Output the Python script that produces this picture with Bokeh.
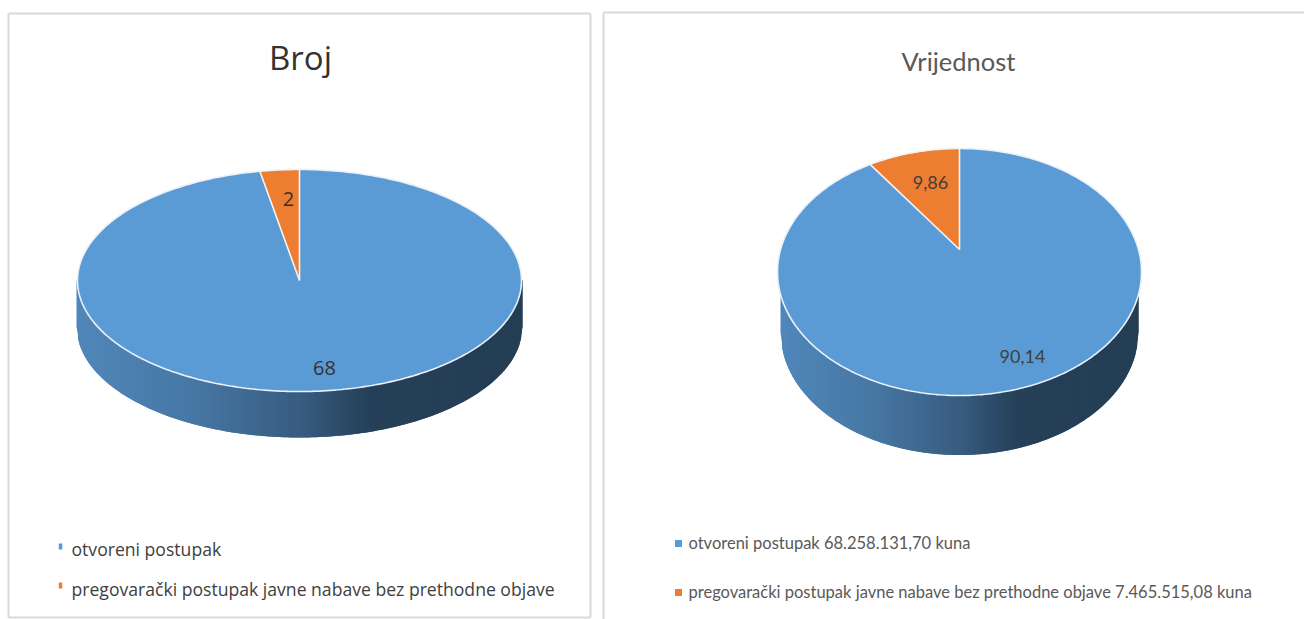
import numpy as np
from bokeh.plotting import figure
from bokeh.core.properties import value
from bokeh.embed import file_html
from bokeh.resources import INLINE

# --- data ---
titles = ["Broj", "Vrijednost"]
broj_values = [68, 2]
broj_labels = ["68", "2"]
vrijednost_values = [90.14, 9.86]
vrijednost_labels = ["90,14", "9,86"]
broj_legend = ["otvoreni postupak", "pregovarački postupak javne nabave bez prethodne objave"]
vrijednost_legend = ["otvoreni postupak 68.258.131,70 kuna",
                     "pregovarački postupak javne nabave bez prethodne objave 7.465.515,08 kuna"]
colors = ["#5B9BD5", "#ED7D31"]

# --- page-like coordinate system ---
W, H = 1304, 619
p = figure(width=W, height=H, x_range=(0, W), y_range=(H, 0),
           toolbar_location=None, output_backend="svg", min_border=0,
           background_fill_color="white", border_fill_color="white")
p.axis.visible = False
p.grid.visible = False
p.outline_line_color = None

FRAME = "#d9d9d9"
p.segment(x0=[8, 8, 8, 590], y0=[13, 13, 617, 13], x1=[590, 8, 590, 590], y1=[13, 617, 617, 617],
          line_color=FRAME, line_width=2)
p.segment(x0=[603, 603], y0=[12, 12], x1=[1304, 603], y1=[12, 619],
          line_color=FRAME, line_width=2)

STOPS_F = [0.0, 0.25, 0.5, 0.66, 1.0]
STOPS_RGB = np.array([[0x50, 0x87, 0xBA], [0x47, 0x78, 0xA5], [0x38, 0x5C, 0x80],
                      [0x25, 0x40, 0x58], [0x24, 0x3E, 0x54]], dtype=float)


def side_color(f):
    rgb = [np.interp(f, STOPS_F, STOPS_RGB[:, i]) for i in range(3)]
    return "#%02x%02x%02x" % tuple(int(round(c)) for c in rgb)


def pie(values, cx, cy, rx, ry, apex_dy, depth, rx_b, ry_b):
    """Elliptic 3D pie; the second slice runs anticlockwise from 12 o'clock."""
    # side wall: overlapping strips, painted left to right, carrying the gradient
    n = int(2 * rx_b / 1.5)
    edges = np.linspace(cx - rx_b, cx + rx_b, n + 1)
    low = cy + depth + ry_b * np.sqrt(np.clip(1 - ((edges - cx) / rx_b) ** 2, 0, 1))
    xs_list, ys_list, cols = [], [], []
    for i in range(n):
        j = min(i + 2, n)
        xs_list.append([edges[i], edges[j], edges[j], edges[i]])
        ys_list.append([cy, cy, low[j], low[i]])
        cols.append(side_color((edges[i] - (cx - rx_b)) / (2 * rx_b)))
    p.patches(xs_list, ys_list, fill_color=cols, line_color=None)

    # top face
    th = np.linspace(0, 2 * np.pi, 361)
    p.patch(cx + rx * np.cos(th), cy + ry * np.sin(th), fill_color=colors[0],
            line_color="#eaf1f8", line_width=1.6)

    # second slice: ray from the apex through the rim of the ellipse
    share = values[1] / sum(values)
    ax, ay = cx, cy + apex_dy
    rim_x, rim_y = [], []
    for a in np.linspace(0, share * 2 * np.pi, 40):
        dx, dy = -rx * np.sin(a), -ry * np.cos(a)
        A = (dx / rx) ** 2 + (dy / ry) ** 2
        B = 2 * apex_dy * dy / ry ** 2
        C = (apex_dy / ry) ** 2 - 1
        s = (-B + np.sqrt(B * B - 4 * A * C)) / (2 * A)
        rim_x.append(ax + s * dx)
        rim_y.append(ay + s * dy)
    p.patch([ax] + rim_x, [ay] + rim_y, fill_color=colors[1],
            line_color="#f4f4f4", line_width=1.6)


pie(broj_values, 299, 280, 222, 111, 0, 46, 223, 111)
pie(vrijednost_values, 959, 271.5, 182, 123.5, -22.5, 60, 179, 123)

# titles
p.text(x=[300], y=[57], text=[titles[0]], text_font=value("Open Sans"), text_font_size="33px",
       text_color="#333333", text_align="center", text_baseline="middle")
p.text(x=[958], y=[60], text=[titles[1]], text_font=value("Lato"), text_font_size="25.5px",
       text_color="#595959", text_align="center", text_baseline="middle")

# data labels
p.text(x=[324, 288], y=[367, 198], text=broj_labels, text_font=value("Open Sans"), text_font_size="20px",
       text_color="#333333", text_align="center", text_baseline="middle")
p.text(x=[1022, 930], y=[356, 182], text=vrijednost_labels, text_font=value("Lato"),
       text_font_size="18px", text_color="#404040", text_align="center", text_baseline="middle")

# legends
p.rect(x=[60, 60], y=[546, 585], width=3.5, height=6, fill_color=colors, line_color=None)
p.text(x=[71, 71], y=[548.5, 588], text=broj_legend, text_font=value("Open Sans"), text_font_size="17.6px",
       text_color="#404040", text_align="left", text_baseline="middle")
p.rect(x=[678, 678], y=[543, 592], width=7, height=7, fill_color=colors, line_color=None)
p.text(x=[688, 688], y=[542, 591], text=vrijednost_legend, text_font=value("Lato"),
       text_font_size="16.5px", text_color="#595959", text_align="left", text_baseline="middle")

open("out.html", "w").write(file_html(p, INLINE))
